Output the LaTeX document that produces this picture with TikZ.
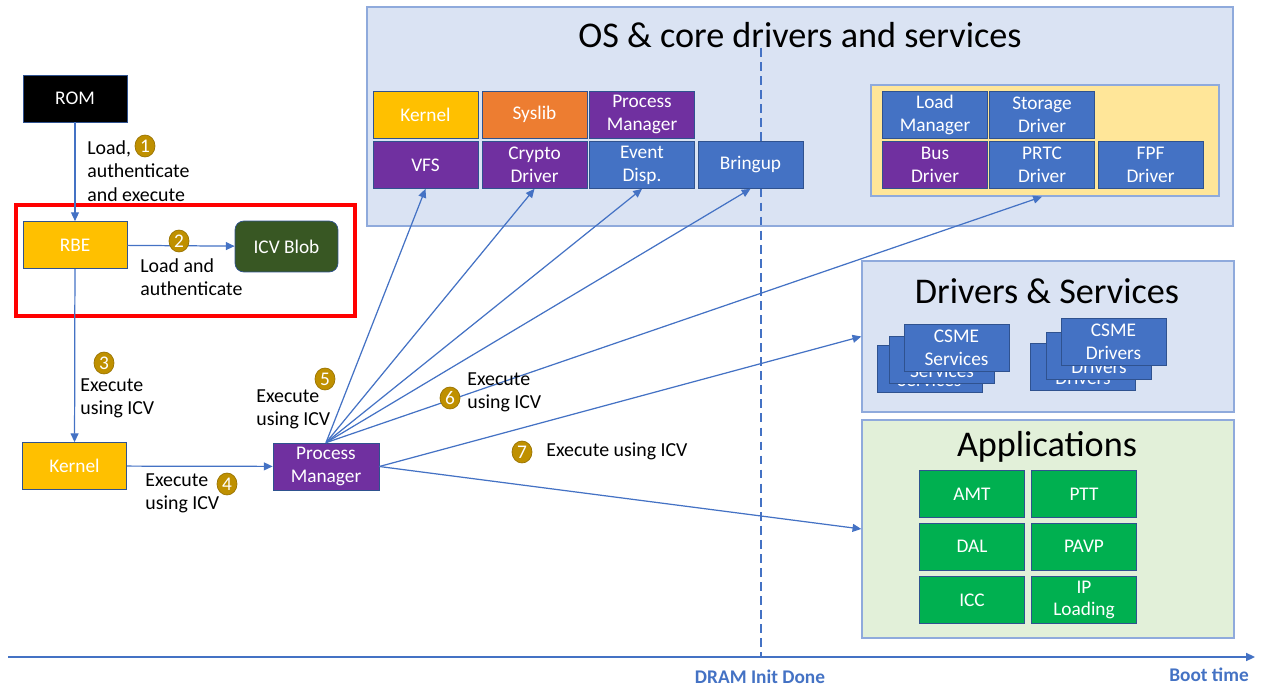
\documentclass[tikz,border=0pt]{standalone}
\usepackage{fontspec}
\setmainfont{Carlito}
\usetikzlibrary{shapes.geometric,arrows.meta}
\definecolor{msblue}{HTML}{4472C4}
\definecolor{boxedge}{HTML}{2F528F}
\definecolor{paneledge}{HTML}{8FAADC}
\definecolor{panelblue}{HTML}{DAE3F3}
\definecolor{panelgreen}{HTML}{E2F0D9}
\definecolor{bgyellow}{HTML}{FFE699}
\definecolor{msyellow}{HTML}{FFC000}
\definecolor{msorange}{HTML}{ED7D31}
\definecolor{mspurple}{HTML}{7030A0}
\definecolor{msgreen}{HTML}{00B050}
\definecolor{darkgreen}{HTML}{385723}
\definecolor{gold}{HTML}{BF9000}
\begin{document}
\begin{tikzpicture}[x=0.02cm,y=-0.02cm,>={Triangle[length=5pt,width=4.5pt]},
  box/.style={draw=boxedge,text=white,align=center,inner sep=0pt,minimum width=2.1cm,minimum height=0.94cm,font=\fontsize{11}{13}\selectfont},
  lbl/.style={align=left,inner sep=0pt,font=\fontsize{11.3}{13.2}\selectfont},
  num/.style={ellipse,fill=gold,draw=gold!80!black,text=white,inner sep=0pt,minimum width=0.4cm,minimum height=0.44cm,font=\fontsize{11}{12}\selectfont},
  flow/.style={msblue,line width=0.7pt,->},
  panel/.style={draw=paneledge,line width=0.8pt,inner sep=0pt},
  title/.style={font=\fontsize{20.6}{24}\selectfont}]
\useasboundingbox (0,0) rectangle (1262,686);

\node[panel,fill=panelblue,minimum width=17.32cm,minimum height=4.38cm] (os) at (800,116.5) {};
\node[title] (ostitle) at (800,35) {OS \& core drivers and services};
\node[panel,fill=bgyellow,minimum width=6.96cm,minimum height=2.22cm] (core) at (1045,140.5) {};
\node[panel,fill=panelblue,minimum width=7.44cm,minimum height=3.02cm] (drv) at (1048,336.5) {};
\node[title] (drvtitle) at (1047,291) {Drivers \& Services};
\node[panel,fill=panelgreen,minimum width=7.44cm,minimum height=4.36cm] (apps) at (1048,529) {};
\node[title] (appstitle) at (1047,447) {Applications};

\draw[msblue,line width=0.7pt,dash pattern=on 5pt off 3pt] (761,48) -- (761,657);

\node[box,fill=msyellow] (oskern) at (425.5,114.5) {Kernel};
\node[box,fill=msorange] (syslib) at (534.5,114.5) {Syslib};
\node[box,fill=mspurple] (ospm) at (642,114.5) {Process\\Manager};
\node[box,fill=mspurple] (vfs) at (425.5,165) {VFS};
\node[box,fill=mspurple] (crypto) at (534.5,165) {Crypto\\Driver};
\node[box,fill=msblue] (evt) at (642,165) {Event\\Disp.};
\node[box,fill=msblue] (bring) at (750.5,165) {Bringup};

\node[box,fill=msblue] (loadm) at (935,115) {Load\\Manager};
\node[box,fill=msblue] (stor) at (1042,115) {Storage\\Driver};
\node[box,fill=mspurple] (bus) at (935,164.5) {Bus\\Driver};
\node[box,fill=msblue] (prtc) at (1042,164.5) {PRTC\\Driver};
\node[box,fill=msblue] (fpf) at (1150.5,164.5) {FPF\\Driver};

\node[box,fill=msblue] (srv3) at (929.5,368.5) {CSME\\Services};
\node[box,fill=msblue] (srv2) at (942,359.5) {CSME\\Services};
\node[box,fill=msblue] (srv1) at (956.5,348) {CSME\\Services};
\node[box,fill=msblue] (dr3) at (1083,366.5) {CSME\\Drivers};
\node[box,fill=msblue] (dr2) at (1099,355.5) {CSME\\Drivers};
\node[box,fill=msblue] (dr1) at (1113.5,342) {CSME\\Drivers};

\node[box,fill=msgreen] (amt) at (972,494) {AMT};
\node[box,fill=msgreen] (ptt) at (1084,494) {PTT};
\node[box,fill=msgreen] (dal) at (972,546.5) {DAL};
\node[box,fill=msgreen] (pavp) at (1084,546.5) {PAVP};
\node[box,fill=msgreen] (icc) at (972,600) {ICC};
\node[box,fill=msgreen] (ipl) at (1084,600) {IP\\Loading};

\node[box,fill=black,minimum width=2.08cm] (rom) at (75,98.5) {ROM};
\node[box,fill=msyellow,minimum width=2.08cm] (rbe) at (75,245) {RBE};
\node[box,fill=darkgreen,rounded corners=5pt,minimum width=2.06cm,minimum height=1.02cm] (icv) at (286.5,246.5) {ICV Blob};
\node[box,fill=msyellow,minimum width=2.08cm] (kern) at (74.5,466) {Kernel};
\node[box,fill=mspurple,minimum width=2.12cm] (pm) at (326,466.5) {Process\\Manager};
\draw[red,line width=1.8pt] (16,205) rectangle (355,316);

\draw[flow] (rom) -- (rbe);
\draw[flow] (rbe) -- (icv);
\draw[flow] (rbe) -- (kern);
\draw[flow] (kern) -- (pm);
\foreach \t in {vfs,crypto,evt,bring} \draw[flow] (pm.north) -- (\t.south);
\draw[flow] (pm.north) -- (prtc.south |- core.south);
\draw[flow] (pm.east) -- (drv.west);
\draw[flow] (pm.east) -- (apps.west);

\node[lbl,anchor=west] (l1) at (87,171) {Load,\\authenticate\\and execute};
\node[lbl,anchor=west] (l2) at (140,277) {Load and\\authenticate};
\node[lbl,anchor=west] (l3) at (80,398) {Execute\\using ICV};
\node[lbl,anchor=west] (l4) at (145,493) {Execute\\using ICV};
\node[lbl,anchor=west] (l5) at (256,409) {Execute\\using ICV};
\node[lbl,anchor=west] (l6) at (467,392) {Execute\\using ICV};
\node[lbl,anchor=west] (l7) at (546,451) {Execute using ICV};
\node[num] (n1) at (145,146) {1};
\node[num] (n2) at (179,241) {2};
\node[num] (n3) at (104,363) {3};
\node[num] (n4) at (227,484) {4};
\node[num] (n5) at (325,379) {5};
\node[num] (n6) at (450,398) {6};
\node[num] (n7) at (522,452) {7};

\coordinate (t0) at (8,657);
\coordinate (t1) at (1255,657);
\draw[flow,line width=1pt] (t0) -- (t1);
\node[text=msblue,font=\fontsize{11}{12}\selectfont\bfseries] (dram) at (760,677) {DRAM Init Done};
\node[text=msblue,font=\fontsize{11}{12}\selectfont\bfseries] (boot) at (1209,675) {Boot time};
\end{tikzpicture}
\end{document}
